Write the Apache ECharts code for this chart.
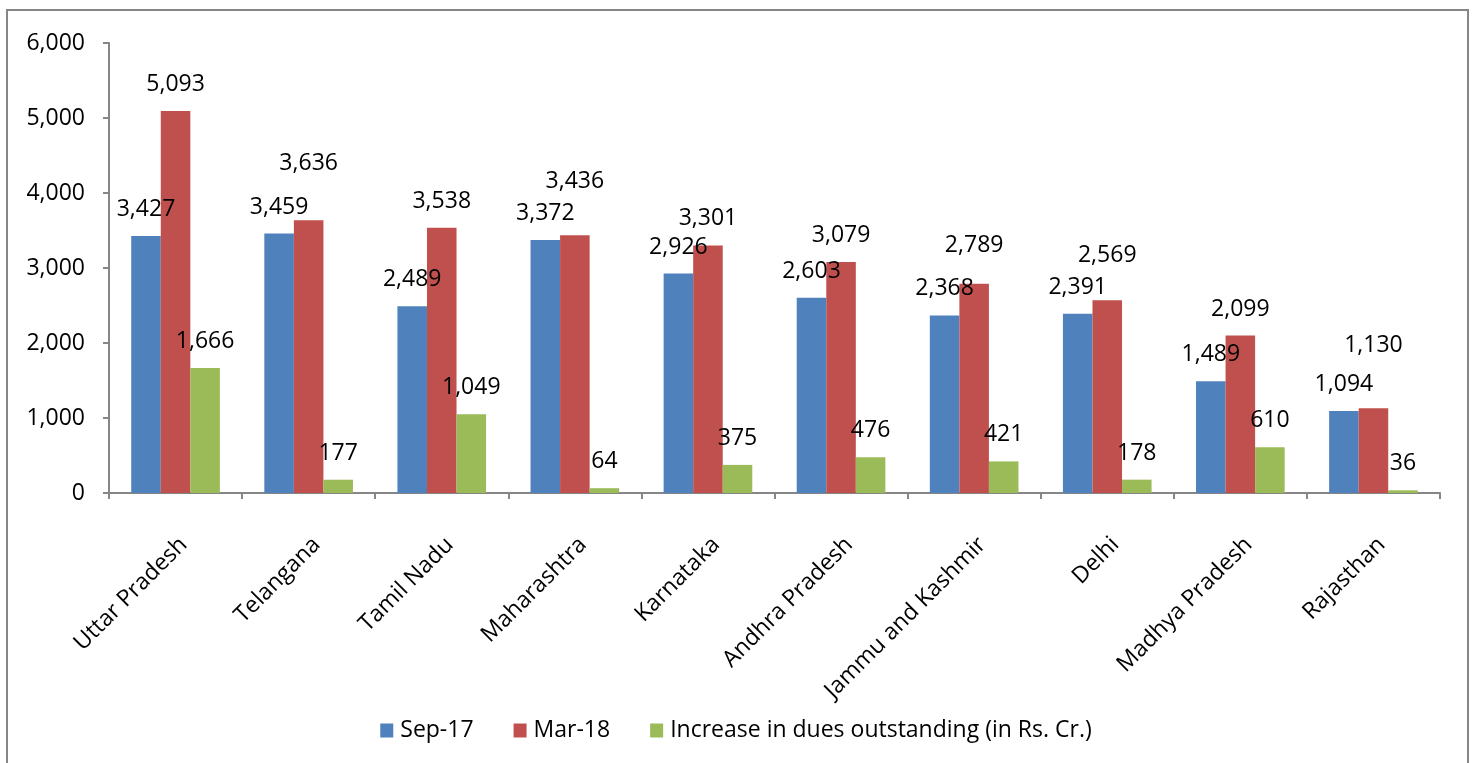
<!DOCTYPE html>
<html>
<head>
<meta charset="utf-8">
<script src="https://cdn.jsdelivr.net/npm/echarts@6/dist/echarts.min.js"></script>
<style>
html,body{margin:0;padding:0;background:#fff;}
#c{width:1472px;height:763px;}
</style>
</head>
<body>
<div id="c"></div>
<script>
const categories = ["Uttar Pradesh","Telangana","Tamil Nadu","Maharashtra","Karnataka","Andhra Pradesh","Jammu and Kashmir","Delhi","Madhya Pradesh","Rajasthan"];
const seriesNames = ["Sep-17","Mar-18","Increase in dues outstanding (in Rs. Cr.)"];
const sep17 = [3427,3459,2489,3372,2926,2603,2368,2391,1489,1094];
const mar18 = [5093,3636,3538,3436,3301,3079,2789,2569,2099,1130];
const increase = [1666,177,1049,64,375,476,421,178,610,36];
const yTicks = [0,1000,2000,3000,4000,5000,6000];

// extra upward shift (px) of some data labels, as placed in the original
const labelLiftMar = [0,30,0,27,0,0,12,18,0,36];

const FONT = '"Open Sans", Lato, sans-serif';
const FS = 23;
const fmt = v => Number(v).toLocaleString('en-US');

function items(vals, lifts){
  return vals.map((v,i)=>{
    const lift = lifts ? lifts[i] : 0;
    return lift ? {value:v, label:{offset:[0,-lift]}} : v;
  });
}

const chart = echarts.init(document.getElementById('c'), null, {renderer:'canvas'});
const labelCfg = {show:true, position:'top', distance:15, color:'#000', fontSize:FS, fontFamily:FONT,
  formatter: p => fmt(p.value)};
const colors = ['#4F81BD','#C0504D','#9BBB59'];

chart.setOption({
  animation:false,
  backgroundColor:'#fff',
  graphic:[{type:'rect', shape:{x:7,y:10,width:1461,height:765}, style:{fill:'none', stroke:'#868686', lineWidth:2}, silent:true}],
  grid:{left:109, right:32, top:43, bottom:270, containLabel:false},
  legend:{
    data:seriesNames, bottom:16, left:'center', itemWidth:13, itemHeight:14, itemGap:40,
    icon:'rect', textStyle:{fontSize:FS, fontFamily:FONT, color:'#000', padding:[0,0,0,2]}
  },
  xAxis:{
    type:'category', data:categories,
    axisLine:{lineStyle:{color:'#868686', width:2}},
    axisTick:{show:true, length:6, lineStyle:{color:'#868686', width:2}},
    axisLabel:{rotate:45, interval:0, fontSize:FS, fontFamily:FONT, color:'#000', margin:40, align:'right', verticalAlign:'top'}
  },
  yAxis:{
    type:'value', min:yTicks[0], max:yTicks[yTicks.length-1], interval:1000,
    axisLine:{show:true, lineStyle:{color:'#868686', width:2}},
    axisTick:{show:true, length:6, lineStyle:{color:'#868686', width:2}},
    splitLine:{show:false},
    axisLabel:{fontSize:FS, fontFamily:FONT, color:'#000', margin:24, formatter:v=>fmt(v)}
  },
  series:[
    {name:seriesNames[0], type:'bar', data:items(sep17), itemStyle:{color:colors[0]}, barGap:'0%', barCategoryGap:'33.4%', label:labelCfg},
    {name:seriesNames[1], type:'bar', data:items(mar18,labelLiftMar), itemStyle:{color:colors[1]}, barGap:'0%', barCategoryGap:'33.4%', label:labelCfg},
    {name:seriesNames[2], type:'bar', data:items(increase), itemStyle:{color:colors[2]}, barGap:'0%', barCategoryGap:'33.4%', label:labelCfg}
  ]
});
</script>
</body>
</html>
